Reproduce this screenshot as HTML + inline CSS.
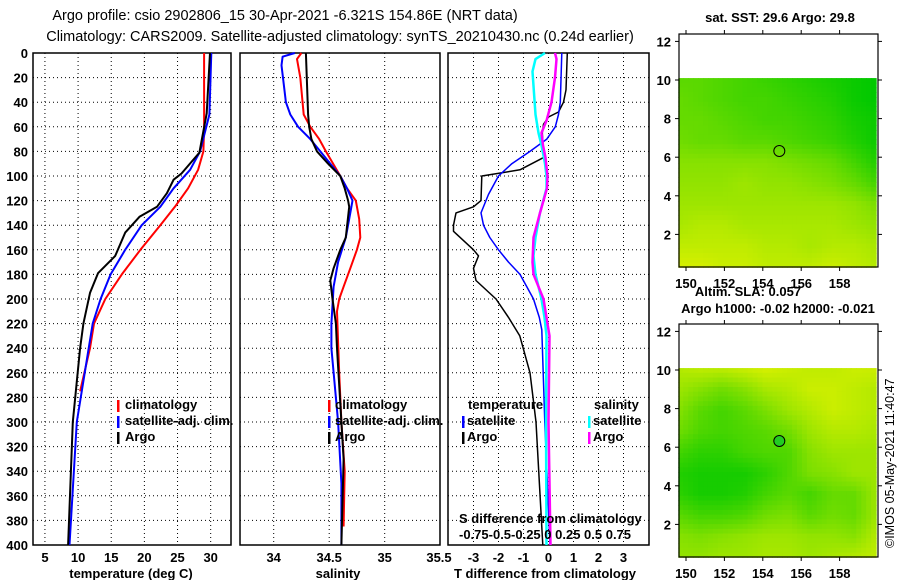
<!DOCTYPE html>
<html><head><meta charset="utf-8"><style>
body{margin:0;background:#fff;}
svg{display:block;font-family:"Liberation Sans",sans-serif;}
.t{font-size:13px;font-weight:bold;}
</style></head><body>
<svg id="c" width="900" height="580" xmlns="http://www.w3.org/2000/svg">
<text x="285" y="20" text-anchor="middle" font-size="14.5">Argo profile: csio 2902806_15 30-Apr-2021 -6.321S 154.86E (NRT data)</text>
<text x="340" y="41" text-anchor="middle" font-size="14.5">Climatology: CARS2009. Satellite-adjusted climatology: synTS_20210430.nc (0.24d earlier)</text>
<g id="g"></g>
<text x="780" y="22" text-anchor="middle" class="t" font-weight="bold">sat. SST: 29.6 Argo: 29.8</text>
<text x="748" y="296" text-anchor="middle" class="t">Altim. SLA: 0.057</text>
<text x="778" y="313" text-anchor="middle" class="t">Argo h1000: -0.02 h2000: -0.021</text>
<text transform="translate(894,548) rotate(-90)" font-size="12.5">©IMOS 05-May-2021 11:40:47</text>
</svg>
<script>
// ---- data ----
const depthT=[0,49,81,98,103,114,125,133,146,165,179,195,220,240,300,400];
const argoT=[29.9,29.4,28.3,25.6,24.4,23.4,21.9,19.3,17.1,15.6,13.0,11.8,10.8,10.3,9.2,8.5];
const depthTs=[0,50,80,95,110,125,140,160,180,200,220,240,300,400];
const satT=[30.1,29.8,28.4,26.9,24.4,22.4,19.6,17.1,14.9,13.4,12.2,11.6,9.8,8.7];
const depthTc=[0,60,80,95,110,125,140,160,180,200,220,240,275];
const climT=[29.0,29.0,28.9,28.1,26.6,24.6,22.4,19.4,16.6,14.1,12.4,11.8,10.3];
const depthSa=[0,50,60,70,80,90,100,110,120,125,150,160,175,185,200,220,240,300,330,400];
const argoS=[34.29,34.31,34.32,34.34,34.39,34.49,34.60,34.64,34.67,34.68,34.65,34.60,34.54,34.51,34.53,34.56,34.57,34.61,34.63,34.61];
const depthSs=[0,3,10,40,50,60,70,80,100,110,120,130,150,170,190,220,240,300,350,400];
const satS=[34.19,34.08,34.07,34.11,34.15,34.22,34.33,34.42,34.60,34.66,34.71,34.69,34.65,34.58,34.54,34.52,34.52,34.58,34.61,34.61];
const depthSc=[0,5,20,50,60,70,80,100,110,120,135,150,160,175,190,200,210,260,300,340,385];
const climS=[34.25,34.21,34.24,34.27,34.33,34.41,34.47,34.60,34.66,34.74,34.77,34.78,34.75,34.69,34.63,34.59,34.57,34.59,34.61,34.64,34.63];
const depthDA=[0,30,40,48,52,58,65,85,95,100,120,125,130,140,145,160,165,175,185,200,215,230,260,300,400];
const dTargo=[0.75,0.7,0.6,0.4,0.0,-0.2,-0.25,-0.2,-1.14,-2.67,-2.7,-3.0,-3.7,-3.8,-3.8,-3.0,-2.8,-3.0,-2.9,-2.1,-1.6,-1.15,-0.74,-0.5,-0.23];
const depthDS=[0,40,50,60,70,80,90,100,115,130,140,150,160,170,180,190,200,215,225,300,400];
const dTsat=[0.53,0.47,0.4,0.27,-0.07,-0.74,-1.47,-2.0,-2.4,-2.7,-2.6,-2.35,-2.0,-1.6,-1.14,-0.87,-0.6,-0.37,-0.27,-0.15,0.06];
const depthDSS=[0,5,15,50,65,75,90,100,110,130,150,165,180,190,200,215,230,300,400];
const dSsat=[-0.035,-0.13,-0.16,-0.13,-0.1,-0.07,-0.035,-0.02,-0.02,-0.085,-0.13,-0.15,-0.13,-0.1,-0.07,-0.04,-0.02,-0.025,-0.02];
const depthDSA=[0,5,20,40,55,65,75,85,100,110,130,150,170,180,190,200,215,230,300,400];
const dSargo=[0.065,0.08,0.065,0.03,-0.02,-0.07,-0.055,-0.03,-0.01,-0.015,-0.085,-0.15,-0.16,-0.15,-0.1,-0.05,-0.02,0.01,0,0.02];
const sstGrid=[
[.4,.4,.35,.3,.25,.2,.15,.1,.05,0],[.45,.4,.35,.3,.3,.25,.2,.15,.05,0],[.45,.45,.4,.35,.3,.3,.25,.2,.1,.05],
[.5,.45,.45,.4,.4,.35,.3,.25,.15,.05],[.6,.6,.6,.6,.6,.55,.5,.45,.3,.15],[.65,.65,.65,.7,.65,.65,.6,.55,.45,.3],
[.7,.7,.7,.7,.7,.7,.7,.7,.65,.55],[.75,.8,.8,.75,.75,.75,.75,.75,.7,.65],[.85,.85,.85,.85,.8,.8,.75,.8,.8,.75],
[.95,.95,.9,.9,.85,.85,.85,.9,.85,.8]];
const slaGrid=[
[.8,.85,.85,.9,.95,.9,.85,.85,.9,.9],[.7,.6,.5,.6,.75,.8,.9,.9,.85,.8],[.6,.4,.3,.4,.55,.7,.8,.9,.85,.8],
[.5,.35,.3,.35,.4,.5,.7,.8,.8,.75],[.3,.2,.2,.3,.35,.35,.6,.7,.7,.7],[.15,.1,.1,.1,.2,.35,.55,.6,.7,.7],
[.2,.1,.1,.15,.3,.4,.3,.45,.45,.7],[.4,.3,.3,.35,.5,.55,.4,.5,.45,.7],[.6,.55,.6,.65,.7,.7,.65,.65,.6,.8],
[.65,.65,.7,.7,.75,.75,.7,.75,.8,.85]];
const depthTicks=[0,20,40,60,80,100,120,140,160,180,200,220,240,260,280,300,320,340,360,380,400];
const tTicks=[5,10,15,20,25,30];
const sTicks=[34,34.5,35,35.5];
const dTicks=[-3,-2,-1,0,1,2,3];
const latTicks=[2,4,6,8,10,12];
const lonTicks=[150,152,154,156,158];
// ---- helpers ----
const NS="http://www.w3.org/2000/svg",G=document.getElementById('g');
function mk(tag,a,p){const e=document.createElementNS(NS,tag);for(const k in a)e.setAttribute(k,a[k]);(p||G).appendChild(e);return e;}
const yD=d=>53+d*1.23;
const xT=t=>33+(t-3.2)*6.63;
const xS=s=>273.7+(s-34)*111;
const xDT=v=>548.5+v*25;
const xDS=v=>548.5+v*100;
function frame(x0,x1,name){const r=mk('rect',{x:x0,y:53,width:x1-x0,height:492,fill:'none',stroke:'#000','stroke-width':1.5});


for(const d of depthTicks){const l=mk('line',{x1:x0,x2:x1,y1:yD(d),y2:yD(d),stroke:'#000','stroke-dasharray':'1,3'});

}}
function vgrid(xs,fx,lab,name){for(const v of xs){const x=fx(v);const l=mk('line',{x1:x,x2:x,y1:53,y2:545,stroke:'#000','stroke-dasharray':'1,3'});


if(lab){const t=mk('text',{x:x,y:562,'text-anchor':'middle',class:'t'});t.textContent=String(v);

}}}
function line(ds,vs,fx,col,name,w){const p=ds.map((d,i)=>fx(vs[i]).toFixed(1)+','+yD(d).toFixed(1)).join(' ');
const e=mk('polyline',{points:p,fill:'none',stroke:col,'stroke-width':w||2,'stroke-linejoin':'round'});

}
function txt(x,y,s,name,extra){const t=mk('text',Object.assign({x:x,y:y,class:'t'},extra||{}));t.textContent=s;

return t;}
function bar(x,y,col){const b=mk('rect',{x:x,y:y-10,width:2.5,height:12,fill:col});

}
// ---- panels ----
frame(33,231,'temperature-panel');frame(240,440,'salinity-panel');frame(448,649,'difference-panel');
for(const d of depthTicks){const t=txt(28,yD(d)+5,String(d),'depth-tick-label',{'text-anchor':'end'});}
vgrid(tTicks,xT,true,'temperature');
vgrid(sTicks.slice(0,3),xS,true,'salinity');
const s35=txt(439,562,'35.5','salinity-tick-label',{'text-anchor':'middle'});
vgrid(dTicks,xDT,true,'t-diff');
txt(131,578,'temperature (deg C)','x-axis-title-temperature',{'text-anchor':'middle'});
txt(338,578,'salinity','x-axis-title-salinity',{'text-anchor':'middle'});
txt(545,578,'T difference from climatology','x-axis-title-difference',{'text-anchor':'middle'});
line(depthTc,climT,xT,'#f00','temp-climatology-line');
line(depthTs,satT,xT,'#00f','temp-satellite-line');
line(depthT,argoT,xT,'#000','temp-argo-line');
line(depthSc,climS,xS,'#f00','sal-climatology-line');
line(depthSs,satS,xS,'#00f','sal-satellite-line');
line(depthSa,argoS,xS,'#000','sal-argo-line');
line(depthDA,dTargo,xDT,'#000','dT-argo-line',1.5);
line(depthDS,dTsat,xDT,'#00f','dT-satellite-line',1.5);
line(depthDSS,dSsat,xDS,'#0ff','dS-satellite-line',2.5);
line(depthDSA,dSargo,xDS,'#f0f','dS-argo-line',2.5);
// legends
[['climatology','#f00'],['satellite-adj. clim.','#00f'],['Argo','#000']].forEach((e,i)=>{
bar(117,410+i*16,e[1]);txt(125,409+i*16,e[0],'legend-entry-temp');
bar(328,410+i*16,e[1]);txt(335,409+i*16,e[0],'legend-entry-sal');});
txt(468,409,'temperature','legend-header-temperature');txt(594,409,'salinity','legend-header-salinity');
bar(462,426,'#00f');txt(467,425,'satellite','legend-entry');bar(462,442,'#000');txt(467,441,'Argo','legend-entry');
bar(588,426,'#0ff');txt(593,425,'satellite','legend-entry');bar(588,442,'#f0f');txt(593,441,'Argo','legend-entry');
txt(459,523,'S difference from climatology','s-diff-axis-title');
txt(459,539,'-0.75-0.5-0.25 0  0.25 0.5 0.75','s-diff-tick-labels',{'xml:space':'preserve'});
// ---- maps ----
function col(v){return 'rgb('+Math.round(225*v)+','+Math.round(200+42*v)+',0)';}
function map(y0,grid,name,fill){
const X0=679,X1=878,lonL=149.6,lonR=159.9,latB=0.3,latT=10.1;
const xL=l=>686+(l-150)*19.2, yL=(l)=>y0+46+(10-l)*19.3;
const n=40;const R=grid.length,C=grid[0].length;
for(let i=0;i<n;i++)for(let j=0;j<n;j++){
const fr=(i+0.5)/n*(R-1),fc=(j+0.5)/n*(C-1);const r0=Math.floor(fr),c0=Math.floor(fc),r1=Math.min(r0+1,R-1),c1=Math.min(c0+1,C-1);
const a=fr-r0,b=fc-c0;const v=grid[r0][c0]*(1-a)*(1-b)+grid[r0][c1]*(1-a)*b+grid[r1][c0]*a*(1-b)+grid[r1][c1]*a*b;
const x=xL(lonL)+(xL(lonR)-xL(lonL))*j/n,y=yL(latT)+(yL(latB)-yL(latT))*i/n;
const c=mk('rect',{x:x.toFixed(2),y:y.toFixed(2),width:((xL(lonR)-xL(lonL))/n+0.6).toFixed(2),height:((yL(latB)-yL(latT))/n+0.6).toFixed(2),fill:col(v)});

}
const f=mk('rect',{x:X0,y:y0,width:X1-X0,height:233,fill:'none',stroke:'#000','stroke-width':1.2});


for(const la of latTicks){const y=yL(la);mk('line',{x1:X0-4,x2:X0,y1:y,y2:y,stroke:'#000'});mk('line',{x1:X1,x2:X1+4,y1:y,y2:y,stroke:'#000'});
txt(671,y+5,String(la),name+'-lat-label',{'text-anchor':'end'});}
for(const lo of lonTicks){const x=xL(lo);mk('line',{x1:x,x2:x,y1:y0-4,y2:y0,stroke:'#000'});mk('line',{x1:x,x2:x,y1:y0+233,y2:y0+237,stroke:'#000'});
txt(x,y0+254,String(lo),name+'-lon-label',{'text-anchor':'middle'});}
const ci=mk('circle',{cx:xL(154.86),cy:yL(6.32),r:5.5,fill:fill,stroke:'#000','stroke-width':1});

}
map(34,sstGrid,'sst-map','none');
map(324,slaGrid,'sla-map','#22cc22');
</script>
</body></html>
